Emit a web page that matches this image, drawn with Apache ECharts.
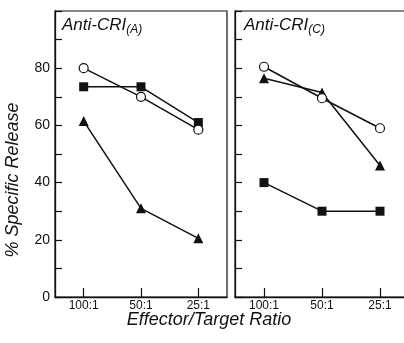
<!DOCTYPE html>
<html>
<head>
<meta charset="utf-8">
<script src="https://cdn.jsdelivr.net/npm/echarts@6/dist/echarts.min.js"></script>
<style>
  html, body { margin: 0; padding: 0; background: #fff; }
  #chart { width: 404px; height: 343px; }
</style>
</head>
<body>
<div id="chart"></div>
<script>
// effector/target ratios (categories)
const ratios = ["100:1", "50:1", "25:1"];
const yTickLabels = [0, 20, 40, 60, 80];

// panel A: Anti-CRI(A)
const aOpenCircle = [80, 70, 58.5];
const aSquare = [73.5, 73.5, 61];
const aTriangle = [61.5, 31, 20.5];

// panel C: Anti-CRI(C)
const cOpenCircle = [80.5, 69.5, 59];
const cTriangle = [76.5, 71.5, 46];
const cSquare = [40, 30, 30];

const font = "Liberation Sans, Arial, sans-serif";
const ink = "#111";

const chart = echarts.init(document.getElementById("chart"), null, { renderer: "canvas" });

function xAxisFor(gridIndex) {
    return {
        type: "category",
        gridIndex: gridIndex,
        data: ratios,
        boundaryGap: true,
        axisLine: { show: true, lineStyle: { color: ink, width: 1.3 } },
        axisTick: { show: true, inside: true, length: 9, alignWithLabel: true, lineStyle: { color: ink, width: 1.2 } },
        axisLabel: { color: ink, fontFamily: font, fontSize: 12, margin: 3 },
        splitLine: { show: false },
    };
}

function yAxisFor(gridIndex, showLabels) {
    return {
        type: "value",
        gridIndex: gridIndex,
        min: 0,
        max: 100,
        interval: 10,
        axisLine: { show: true, lineStyle: { color: ink, width: 1.3 } },
        axisTick: { show: true, inside: true, length: 7, lineStyle: { color: ink, width: 1.2 } },
        axisLabel: {
            show: showLabels,
            color: ink,
            fontFamily: font,
            fontSize: 14,
            margin: 5,
            formatter: (v) => (yTickLabels.indexOf(v) >= 0 ? String(v) : ""),
        },
        splitLine: { show: false },
    };
}

function line(name, data, idx, symbol, filled) {
    return {
        name: name,
        type: "line",
        xAxisIndex: idx,
        yAxisIndex: idx,
        data: data,
        symbol: symbol,
        symbolSize: symbol === "triangle" ? 10 : 9,
        showAllSymbol: true,
        lineStyle: { color: ink, width: 1.5 },
        itemStyle: {
            color: filled ? ink : "#fff",
            borderColor: ink,
            borderWidth: filled ? 0 : 1.2,
        },
        z: filled ? 3 : 4,
        animation: false,
    };
}

const titleRich = {
    main: { fontFamily: font, fontStyle: "italic", fontWeight: "normal", fontSize: 17, color: ink },
    sub: { fontFamily: font, fontStyle: "italic", fontWeight: "normal", fontSize: 12, color: ink, padding: [10, 0, 0, 0] },
};

chart.setOption({
    animation: false,
    title: [
        { text: "{main|Anti-CRI}{sub|(A)}", left: 62, top: 14, padding: 0, textStyle: { rich: titleRich } },
        { text: "{main|Anti-CRI}{sub|(C)}", left: 244, top: 14, padding: 0, textStyle: { rich: titleRich } },
    ],
    grid: [
        { left: 55, top: 11, width: 172, height: 286, show: true, borderColor: ink, borderWidth: 1.2, containLabel: false, outerBoundsMode: "none" },
        { left: 235, top: 11, width: 174, height: 286, show: true, borderColor: ink, borderWidth: 1.2, containLabel: false, outerBoundsMode: "none" },
    ],
    xAxis: [xAxisFor(0), xAxisFor(1)],
    yAxis: [yAxisFor(0, true), yAxisFor(1, false)],
    graphic: [
        {
            type: "text",
            x: 13,
            y: 180,
            rotation: Math.PI / 2,
            style: {
                text: "% Specific Release",
                font: "italic 18px " + font,
                fill: ink,
                align: "center",
                verticalAlign: "middle",
            },
        },
        {
            type: "text",
            x: 209,
            y: 320,
            style: {
                text: "Effector/Target Ratio",
                font: "italic 18px " + font,
                fill: ink,
                align: "center",
                verticalAlign: "middle",
            },
        },
    ],
    series: [
        line("A open circle", aOpenCircle, 0, "circle", false),
        line("A square", aSquare, 0, "rect", true),
        line("A triangle", aTriangle, 0, "triangle", true),
        line("C open circle", cOpenCircle, 1, "circle", false),
        line("C triangle", cTriangle, 1, "triangle", true),
        line("C square", cSquare, 1, "rect", true),
    ],
});
</script>
</body>
</html>
